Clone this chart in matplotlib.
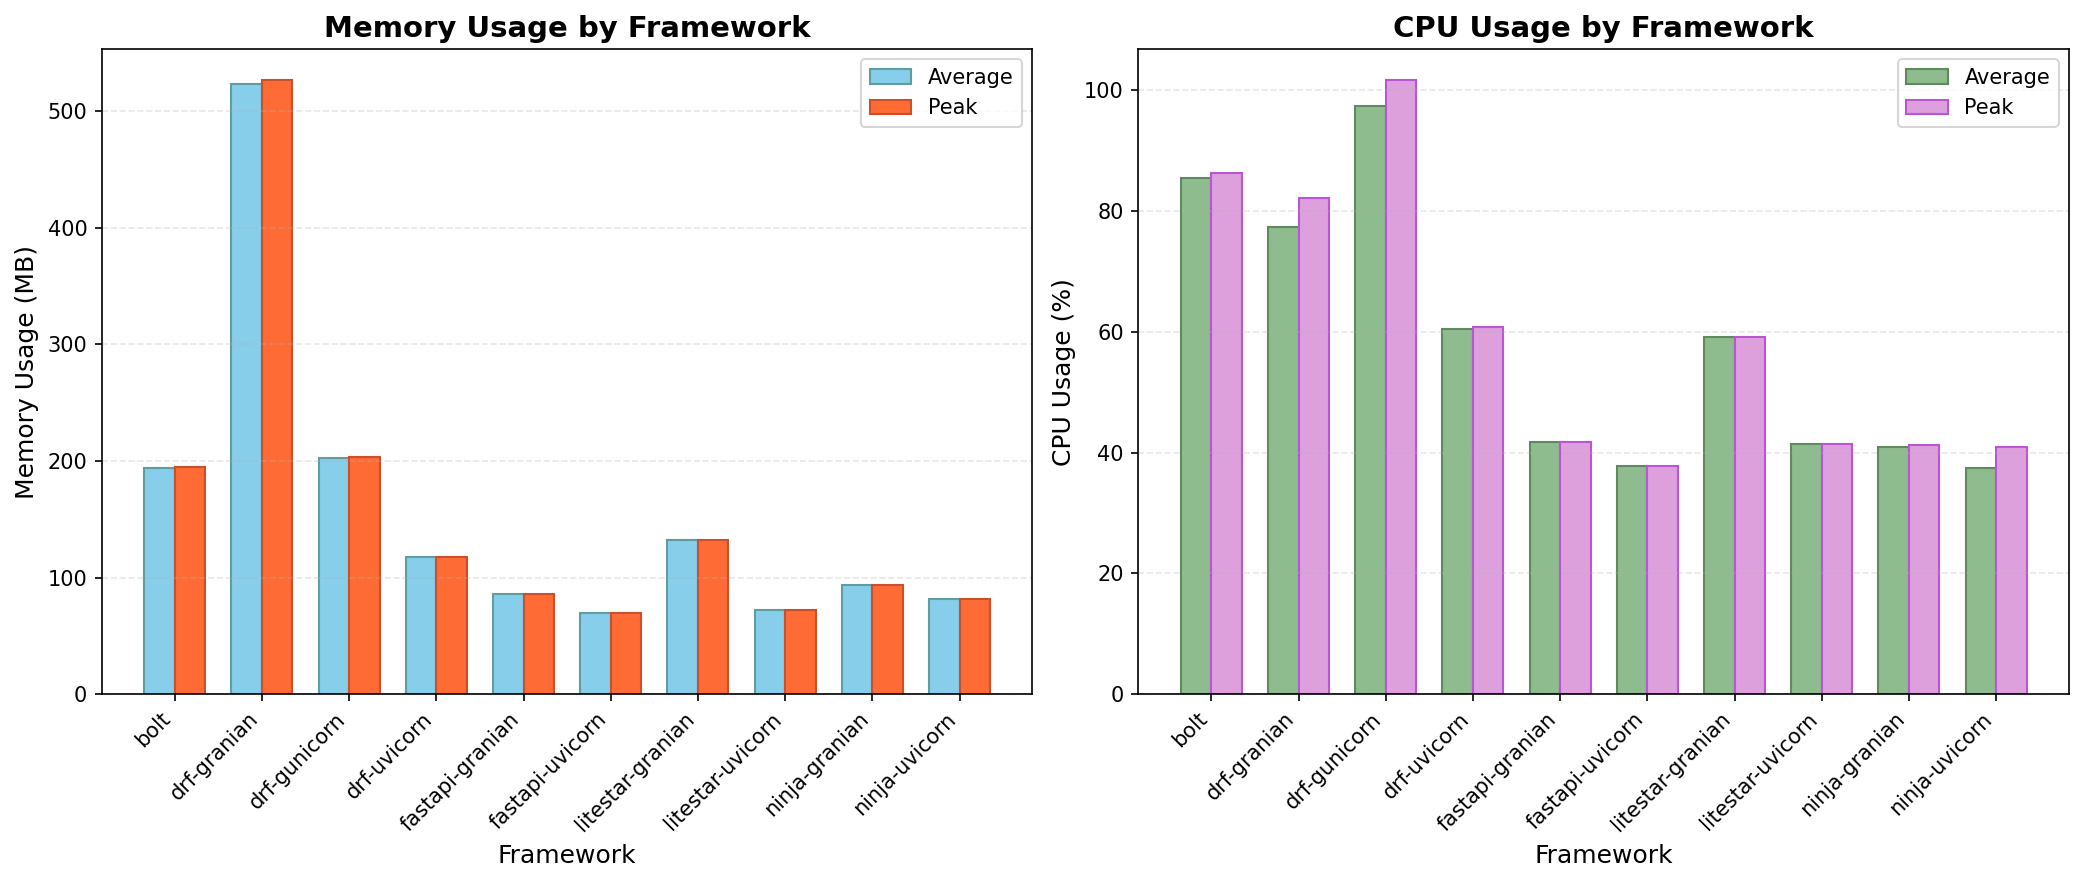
import numpy as np
import matplotlib
matplotlib.use("Agg")
import matplotlib.pyplot as plt

frameworks = ['bolt', 'drf-granian', 'drf-gunicorn', 'drf-uvicorn', 'fastapi-granian',
              'fastapi-uvicorn', 'litestar-granian', 'litestar-uvicorn', 'ninja-granian',
              'ninja-uvicorn']

# Memory (MB)
mem_avg = [194.4, 523.4, 202.9, 117.5, 86.3, 70.0, 132.1, 72.0, 93.5, 82.0]
mem_peak = [194.6, 526.8, 203.0, 117.6, 86.4, 70.1, 132.2, 72.1, 93.6, 82.1]

# CPU (%)
cpu_avg = [85.5, 77.4, 97.4, 60.5, 41.7, 37.7, 59.2, 41.5, 41.0, 37.5]
cpu_peak = [86.2, 82.2, 101.7, 60.7, 41.7, 37.7, 59.2, 41.5, 41.2, 41.0]

x = np.arange(len(frameworks))
width = 0.35

fig, (ax1, ax2) = plt.subplots(1, 2, figsize=(2084 / 150, 883 / 150), dpi=150)
fig.subplots_adjust(left=0.0489, right=0.9928, bottom=0.2137, top=0.9445, wspace=0.114)

# メモリ
ax1.bar(x - width / 2, mem_avg, width, label='Average', color='skyblue', edgecolor='cadetblue')
ax1.bar(x + width / 2, mem_peak, width, label='Peak', color='#FF6B35', edgecolor='#C8502A')
ax1.set_title('Memory Usage by Framework', fontsize=14, fontweight='bold')
ax1.set_xlabel('Framework', fontsize=12)
ax1.set_ylabel('Memory Usage (MB)', fontsize=12)
ax1.set_xticks(x)
ax1.set_xticklabels(frameworks, rotation=45, ha='right')
ax1.legend()
ax1.grid(axis='y', linestyle='--', alpha=0.3)

# CPU
ax2.bar(x - width / 2, cpu_avg, width, label='Average', color='darkseagreen', edgecolor='#5E8A5E')
ax2.bar(x + width / 2, cpu_peak, width, label='Peak', color='plum', edgecolor='mediumorchid')
ax2.set_title('CPU Usage by Framework', fontsize=14, fontweight='bold')
ax2.set_xlabel('Framework', fontsize=12)
ax2.set_ylabel('CPU Usage (%)', fontsize=12)
ax2.set_xticks(x)
ax2.set_xticklabels(frameworks, rotation=45, ha='right')
ax2.legend()
ax2.grid(axis='y', linestyle='--', alpha=0.3)

fig.savefig('out.png', dpi=150)
